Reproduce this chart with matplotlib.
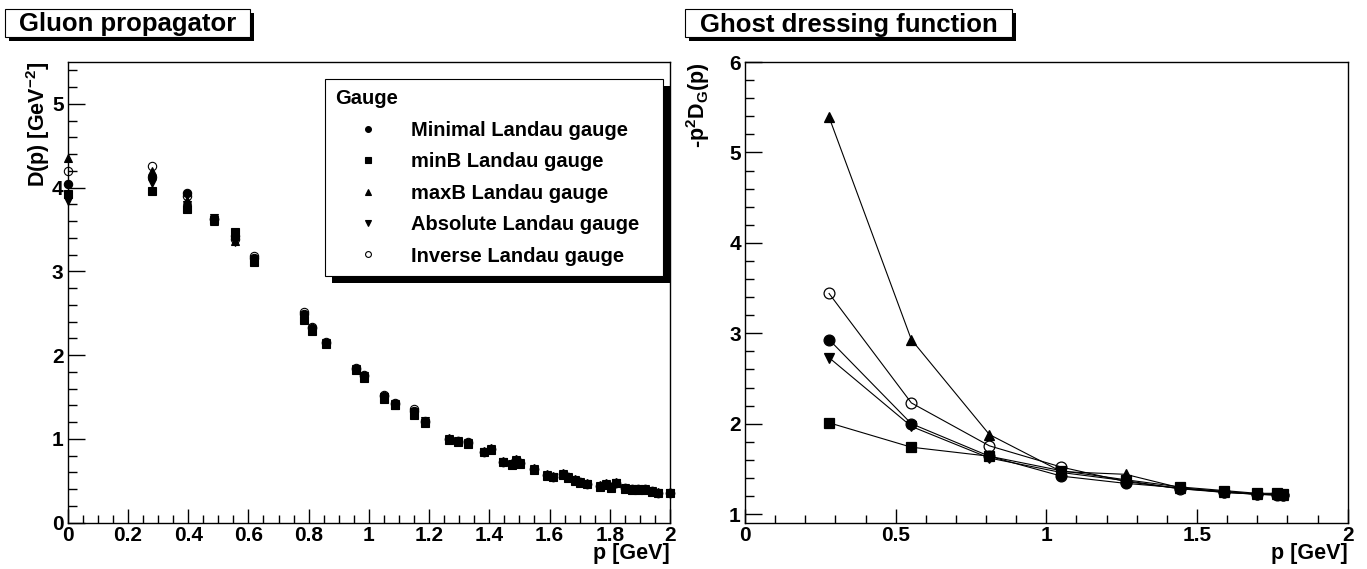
#!/usr/bin/env python3
"""Gluon propagator and ghost dressing function for five Landau gauge variants."""

import matplotlib
matplotlib.use("Agg")
import matplotlib.pyplot as plt
from matplotlib.lines import Line2D
from matplotlib.patches import Rectangle
from matplotlib.ticker import MultipleLocator, FuncFormatter

plt.rcParams["font.family"] = ["Liberation Sans", "DejaVu Sans"]
plt.rcParams["font.weight"] = "bold"
plt.rcParams["axes.labelweight"] = "bold"
plt.rcParams["mathtext.fontset"] = "custom"
plt.rcParams["mathtext.rm"] = "Liberation Sans:bold"
plt.rcParams["mathtext.it"] = "Liberation Sans:bold"
plt.rcParams["mathtext.bf"] = "Liberation Sans:bold"
plt.rcParams["mathtext.default"] = "rm"

# ── data ──
gauges = ["Minimal Landau gauge", "minB Landau gauge", "maxB Landau gauge",
          "Absolute Landau gauge", "Inverse Landau gauge"]

p_gluon = [0.0, 0.281, 0.397, 0.485, 0.554, 0.620, 0.784, 0.811, 0.859, 0.958,
           0.983, 1.051, 1.088, 1.149, 1.188, 1.265, 1.295, 1.329, 1.381, 1.406,
           1.447, 1.475, 1.488, 1.502, 1.549, 1.591, 1.613, 1.644, 1.660, 1.685,
           1.700, 1.724, 1.768, 1.788, 1.803, 1.820, 1.850, 1.873, 1.895, 1.917,
           1.939, 1.961, 2.000]

D_minimal = [4.04, 4.13, 3.94, 3.63, 3.42, 3.16, 2.49, 2.32, 2.15, 1.84,
             1.75, 1.51, 1.42, 1.33, 1.20, 1.00, 0.97, 0.95, 0.85, 0.88,
             0.73, 0.70, 0.75, 0.71, 0.64, 0.57, 0.55, 0.58, 0.54, 0.51,
             0.48, 0.465, 0.44, 0.46, 0.425, 0.475, 0.41, 0.40, 0.40, 0.40,
             0.375, 0.36, 0.36]
D_minB = [3.93, 3.96, 3.74, 3.61, 3.47, 3.11, 2.42, 2.29, 2.13, 1.82,
          1.73, 1.48, 1.40, 1.28, 1.19, 0.99, 0.96, 0.94, 0.84, 0.87,
          0.72, 0.69, 0.74, 0.70, 0.63, 0.56, 0.54, 0.57, 0.53, 0.50,
          0.47, 0.46, 0.43, 0.45, 0.42, 0.47, 0.40, 0.39, 0.395, 0.39,
          0.37, 0.355, 0.355]
D_maxB = [4.35, 4.20, 3.85, 3.60, 3.36, 3.14, 2.46, 2.31, 2.14, 1.83,
          1.74, 1.49, 1.41, 1.30, 1.20, 1.01, 0.98, 0.95, 0.86, 0.89,
          0.74, 0.71, 0.76, 0.72, 0.65, 0.58, 0.56, 0.59, 0.55, 0.52,
          0.49, 0.47, 0.45, 0.47, 0.43, 0.48, 0.415, 0.405, 0.405, 0.405,
          0.38, 0.365, 0.365]
D_absolute = [3.84, 4.05, 3.79, 3.64, 3.35, 3.12, 2.44, 2.30, 2.15, 1.84,
              1.75, 1.50, 1.42, 1.32, 1.21, 1.00, 0.97, 0.95, 0.85, 0.88,
              0.73, 0.70, 0.75, 0.71, 0.64, 0.57, 0.55, 0.58, 0.54, 0.51,
              0.48, 0.465, 0.44, 0.46, 0.425, 0.475, 0.41, 0.40, 0.40, 0.40,
              0.375, 0.36, 0.36]
D_inverse = [4.20, 4.26, 3.90, 3.62, 3.39, 3.18, 2.52, 2.34, 2.16, 1.85,
             1.76, 1.52, 1.43, 1.36, 1.21, 1.00, 0.97, 0.96, 0.85, 0.88,
             0.73, 0.70, 0.75, 0.71, 0.64, 0.57, 0.55, 0.58, 0.54, 0.51,
             0.48, 0.465, 0.44, 0.46, 0.425, 0.475, 0.41, 0.40, 0.40, 0.40,
             0.375, 0.36, 0.36]

p_ghost = [0.279, 0.552, 0.811, 1.050, 1.263, 1.445, 1.591, 1.699, 1.764, 1.786]

G_minimal = [2.93, 2.00, 1.64, 1.42, 1.34, 1.29, 1.25, 1.22, 1.21, 1.21]
G_minB = [2.01, 1.74, 1.64, 1.48, 1.38, 1.30, 1.26, 1.23, 1.23, 1.22]
G_maxB = [5.39, 2.93, 1.88, 1.47, 1.44, 1.29, 1.24, 1.22, 1.22, 1.21]
G_absolute = [2.73, 1.97, 1.62, 1.46, 1.37, 1.28, 1.24, 1.22, 1.21, 1.21]
G_inverse = [3.44, 2.23, 1.755, 1.52, 1.36, 1.28, 1.25, 1.22, 1.22, 1.21]

gluon_sets = [D_minimal, D_minB, D_maxB, D_absolute, D_inverse]
ghost_sets = [G_minimal, G_minB, G_maxB, G_absolute, G_inverse]
markers = ["o", "s", "^", "v", "o"]
faces = ["k", "k", "k", "k", "none"]

# ── layout (pixel based) ──
W, H = 1367, 569
fig = plt.figure(figsize=(W / 100, H / 100), dpi=100)


def px_rect(x0, x1, ytop, ybot):
    return [x0 / W, 1 - ybot / H, (x1 - x0) / W, (ybot - ytop) / H]


ax1 = fig.add_axes(px_rect(67.7, 670, 62, 522.7))
ax2 = fig.add_axes(px_rect(745, 1347.7, 62, 522.7))

fmt = FuncFormatter(lambda v, _: f"{v:g}")


def style(ax, xmaj, xmin, ymaj, ymin):
    ax.xaxis.set_major_locator(MultipleLocator(xmaj))
    ax.xaxis.set_minor_locator(MultipleLocator(xmin))
    ax.yaxis.set_major_locator(MultipleLocator(ymaj))
    ax.yaxis.set_minor_locator(MultipleLocator(ymin))
    ax.xaxis.set_major_formatter(fmt)
    ax.yaxis.set_major_formatter(fmt)
    ax.tick_params(which="both", direction="in", top=False, right=False,
                   labelsize=15, width=1.0)
    ax.tick_params(axis="x", which="major", length=10, pad=2.5)
    ax.tick_params(axis="x", which="minor", length=5.8)
    ax.tick_params(axis="y", which="major", length=12, pad=3)
    ax.tick_params(axis="y", which="minor", length=6.5)
    for s in ax.spines.values():
        s.set_linewidth(1.0)


# ── Gluon propagator ──
for vals, m, fc in zip(gluon_sets, markers, faces):
    ax1.plot(p_gluon, vals, ls="none", marker=m, color="k", mfc=fc,
             ms=6, mew=0.8, clip_on=False, zorder=3)
ax1.set_xlim(0, 2)
ax1.set_ylim(0, 5.5)
style(ax1, 0.2, 0.05, 1, 0.2)
ax1.set_xlabel("p [GeV]", fontsize=15.5, fontweight="bold", loc="right")
ax1.xaxis.set_label_coords(1.0, -0.045)
ax1.set_ylabel("D(p) [GeV$^{-2}$]", fontsize=15.5, fontweight="bold", loc="top")
ax1.yaxis.set_label_coords(-0.026, 1.0)

handles = [Line2D([], [], ls="none", marker=m, color="k", mfc=fc, ms=4.2, mew=0.8)
           for m, fc in zip(markers, faces)]
leg = ax1.legend(handles, gauges, title="Gauge", loc="upper left",
                 bbox_to_anchor=(0.427, 0.538, 0.561, 0.425), mode="expand",
                 borderaxespad=0, prop=dict(weight="bold", size=14.5),
                 title_fontproperties=dict(weight="bold", size=14.5),
                 alignment="left", fancybox=False, framealpha=1,
                 edgecolor="k", handlelength=3.3, handletextpad=0.5,
                 borderpad=0.5, labelspacing=0.62)
leg.get_frame().set_linewidth(0.8)

# ── Ghost dressing function ──
for vals, m, fc in zip(ghost_sets, markers, faces):
    ax2.plot(p_ghost, vals, marker=m, color="k", mfc=fc, ms=7.8, mew=0.9,
             lw=0.8, clip_on=False, zorder=3)
ax2.set_xlim(0, 2)
ax2.set_ylim(0.905, 6.0)
style(ax2, 0.5, 0.1, 1, 0.2)
ax2.set_xlabel("p [GeV]", fontsize=15.5, fontweight="bold", loc="right")
ax2.xaxis.set_label_coords(1.0, -0.045)
ax2.set_ylabel("-p$^{2}$D$_{G}$(p)", fontsize=15.5, fontweight="bold", loc="top")
ax2.yaxis.set_label_coords(-0.055, 1.0)


# ── title boxes with shadows ──
def title_box(x0, x1, ytop, ybot, base, text):
    sh = 4
    fig.add_artist(Rectangle(((x0 + sh) / W, 1 - (ybot + sh) / H),
                             (x1 - x0) / W, (ybot - ytop) / H,
                             transform=fig.transFigure, fc="k", ec="k", lw=0))
    fig.add_artist(Rectangle((x0 / W, 1 - ybot / H),
                             (x1 - x0) / W, (ybot - ytop) / H,
                             transform=fig.transFigure, fc="w", ec="k", lw=0.8))
    fig.text((x0 + x1) / 2 / W, 1 - base / H, text, ha="center", va="baseline",
             fontsize=18.5, weight="bold")


title_box(5, 250, 9.5, 37, 31.5, "Gluon propagator")
title_box(685, 1012, 9.5, 37, 32, "Ghost dressing function")

# legend shadow (black box offset to lower right)
fig.canvas.draw()
bb = leg.get_window_extent()
off = 7
inv = ax1.transAxes.inverted()
(lx0, ly0), (lx1, ly1) = inv.transform([(bb.x0 + off, bb.y0 - off),
                                        (bb.x1 + off, bb.y1 - off)])
ax1.add_patch(Rectangle((lx0, ly0), lx1 - lx0, ly1 - ly0, transform=ax1.transAxes,
                        fc="k", ec="k", lw=0, clip_on=False,
                        zorder=leg.get_zorder() - 0.1))

fig.savefig("out.png", dpi=100)
